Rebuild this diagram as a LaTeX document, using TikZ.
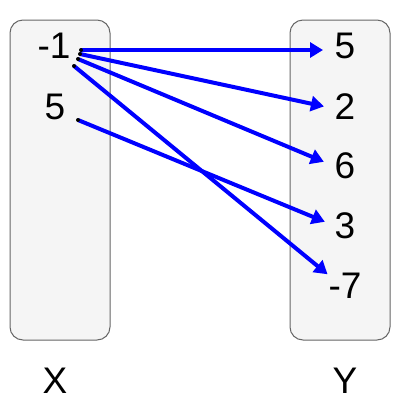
\documentclass[tikz,border=0pt]{standalone}
\usepackage{fontspec}
\setmainfont{Liberation Sans}
\usetikzlibrary{arrows.meta}
\begin{document}
\begin{tikzpicture}[x=1pt,y=-1pt,
  setbox/.style={draw=black!60,fill=black!4,line width=1pt,rounded corners=13pt},
  num/.style={inner sep=0pt,font=\fontsize{37}{40}\selectfont},
  link/.style={draw=blue,line width=4pt,-{Triangle[length=13pt,width=15pt]},shorten >=-2pt},
  dotmark/.style={fill=black}]
\useasboundingbox (0,0) rectangle (400,400);
\path[setbox] (10,20) rectangle (110,340);
\path[setbox] (290,20) rectangle (390,340);
\node[num] (xm1) at (54,46) {-1};
\node[num] (x5) at (55,107) {5};
\node[num] (y5) at (345,46) {5};
\node[num] (y2) at (345,107) {2};
\node[num] (y6) at (345,166) {6};
\node[num] (y3) at (345,226) {3};
\node[num] (ym7) at (345,286) {-7};
\node[num] (lx) at (55,381) {X};
\node[num] (ly) at (345,381) {Y};
\coordinate (s1) at (81,50);
\coordinate (s2) at (80,54);
\coordinate (s3) at (78,59);
\coordinate (s4) at (74,66);
\coordinate (s5) at (78,120);
\coordinate (t5) at (321,50);
\coordinate (t2) at (322,106);
\coordinate (t6) at (322,161);
\coordinate (t3) at (323,221);
\coordinate (tm7) at (326,273);
\draw[link] (s1) -- (t5);
\draw[link] (s2) -- (t2);
\draw[link] (s3) -- (t6);
\draw[link] (s4) -- (tm7);
\draw[link] (s5) -- (t3);
\foreach \p in {s1,s2,s3,s4,s5} \fill[dotmark] (\p) circle (2pt);
\end{tikzpicture}
\end{document}
